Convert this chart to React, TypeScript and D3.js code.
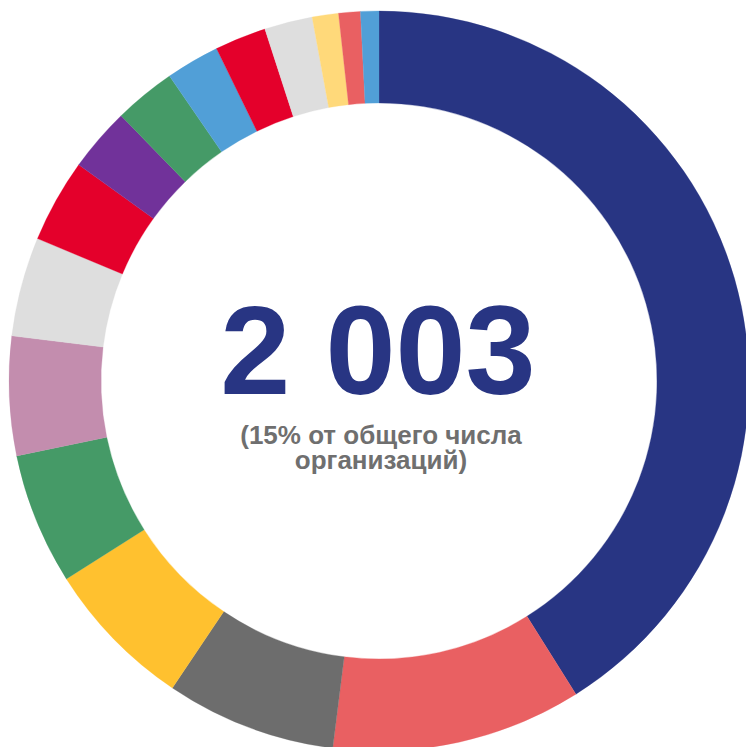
import React from "react";
import * as d3 from "d3";

const categories = [
  "s1", "s2", "s3", "s4", "s5", "s6", "s7", "s8",
  "s9", "s10", "s11", "s12", "s13", "s14", "s15", "s16",
];
const values = [823, 219, 149, 132, 115, 104, 87, 73, 56, 54, 47, 45, 42, 23, 19, 16];
const colors = [
  "#283583", "#E96062", "#6D6D6D", "#FFC12F", "#459A67", "#C38DAE",
  "#DEDEDE", "#E4002B", "#71329A", "#459A67", "#519FD7", "#E4002B",
  "#DEDEDE", "#FFD97A", "#E96062", "#519FD7",
];
const centerValue = "2 003";
const subtitleLines = ["(15% от общего числа", "организаций)"];

export default function App() {
  const W = 746;
  const H = 747;
  const cx = 379;
  const cy = 381;
  const outerR = 370;
  const innerR = 278;

  const data = categories.map((c, i) => ({ c, v: values[i], color: colors[i] }));
  const pie = d3.pie<any>().value((d: any) => d.v).sort(null);
  const arc = d3.arc<any>().innerRadius(innerR).outerRadius(outerR);
  const arcs = pie(data);

  return (
    <svg
      width={W}
      height={H}
      style={{ position: "absolute", left: 0, top: 0, background: "#fff" }}
    >
      <g transform={`translate(${cx},${cy})`}>
        {arcs.map((a, i) => (
          <path key={i} d={arc(a) as string} fill={a.data.color} stroke={a.data.color} strokeWidth={0.3} />
        ))}
      </g>
      <text
        x={378}
        y={394}
        textAnchor="middle"
        fontFamily="'Liberation Sans', Arial, sans-serif"
        fontWeight="bold"
        fontSize={126}
        fill="#283583"
      >
        {centerValue}
      </text>
      {subtitleLines.map((t, i) => (
        <text
          key={i}
          x={381}
          y={444 + i * 25}
          textAnchor="middle"
          fontFamily="'Liberation Sans', Arial, sans-serif"
          fontWeight="bold"
          fontSize={26}
          fill="#6F6F6F"
        >
          {t}
        </text>
      ))}
    </svg>
  );
}
